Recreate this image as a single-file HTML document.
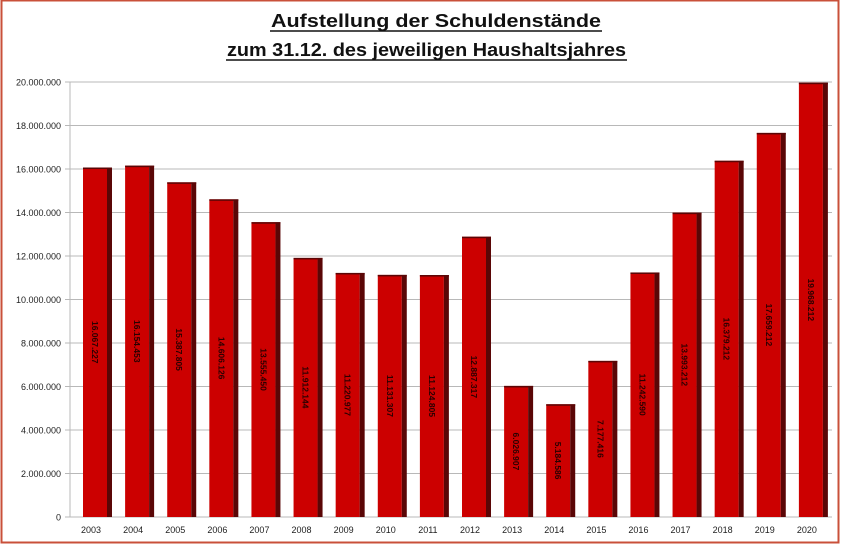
<!DOCTYPE html>
<html><head><meta charset="utf-8"><style>
body{margin:0;background:#fff}
svg{display:block}
text{font-family:"Liberation Sans",sans-serif}
</style></head><body>
<svg width="841" height="546" viewBox="0 0 841 546" xmlns="http://www.w3.org/2000/svg">
<rect x="0" y="0" width="841" height="546" fill="#fff"/>
<rect x="1.5" y="0.5" width="837" height="542" fill="none" stroke="#c9503a" stroke-width="2"/>
<text x="271" y="27" font-size="18" font-weight="bold" fill="#111" textLength="330" lengthAdjust="spacingAndGlyphs">Aufstellung der Schuldenstände</text>
<line x1="270" y1="31" x2="602" y2="31" stroke="#111" stroke-width="1.5"/>
<text x="227" y="56" font-size="18" font-weight="bold" fill="#111" textLength="399" lengthAdjust="spacingAndGlyphs">zum 31.12. des jeweiligen Haushaltsjahres</text>
<line x1="226" y1="60" x2="627" y2="60" stroke="#111" stroke-width="1.5"/>
<g id="grid" stroke="#b8b8b8" stroke-width="1"></g>
<g id="bars"></g>
</svg>
<script>
var vals=[16067227,16154453,15387805,14606126,13555450,11912144,11220977,11131307,11124805,12887317,6026907,5184586,7177416,11242590,13993212,16379212,17659212,19968212];
var ns="http://www.w3.org/2000/svg",svg=document.querySelector('svg');
var g=document.getElementById('grid'),b=document.getElementById('bars');
function el(t,a,p,txt){var e=document.createElementNS(ns,t);for(var k in a)e.setAttribute(k,a[k]);if(txt!=null)e.textContent=txt;(p||svg).appendChild(e);return e;}
var pTop=82,pBot=517,L=70,R=832;
function fmt(n){return String(n).replace(/\B(?=(\d{3})+(?!\d))/g,'.');}
for(var i=0;i<=10;i++){var y=pBot-i*(pBot-pTop)/10;
 el('line',{x1:L,y1:y,x2:R,y2:y},g);
 el('line',{x1:L-5,y1:y,x2:L,y2:y},g);
 el('text',{x:61,y:y+3.5,'font-size':9,'text-anchor':'end',fill:'#222'},svg,i==0?'0':fmt(i*2000000));}
el('line',{x1:L,y1:pTop,x2:L,y2:pBot},g);
var pitch=(828-L)/18;
vals.forEach(function(v,i){var x=L+i*pitch+13;var h=v/20000000*(pBot-pTop);var y=pBot-h;
 el('rect',{x:x,y:y,width:24,height:h,fill:'#cc0000'},b);
 el('rect',{x:x+24,y:y,width:5,height:h,fill:'#5a0606'},b);
 el('rect',{x:x,y:y,width:29,height:1.5,fill:'#5a0606'},b);
 var cx=x+12,cy=y+h/2;
 el('text',{x:cx,y:cy+3,'font-size':8.5,'font-weight':'bold','text-anchor':'middle',fill:'#2a0000',transform:'rotate(90 '+cx+' '+cy+')'},b,fmt(v));
 el('text',{x:L+i*pitch+21,y:533,'font-size':9,'text-anchor':'middle',fill:'#222'},svg,String(2003+i));
});
</script>
</body></html>
